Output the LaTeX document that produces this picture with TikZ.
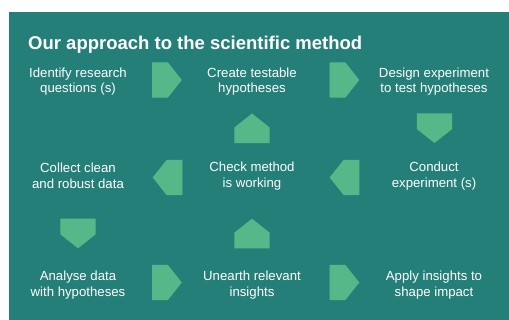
\documentclass[tikz,border=0pt]{standalone}
\usepackage{fontspec}
\setmainfont{Liberation Sans}
\definecolor{panel}{HTML}{237F78}
\definecolor{leaf}{HTML}{56B889}
\begin{document}
\begin{tikzpicture}[x=1pt,y=-1pt,
  steptext/.style={text=white, align=center, inner sep=0pt,
    font=\fontsize{13.2}{15.6}\selectfont},
  title/.style={text=white, inner sep=0pt, anchor=base west,
    font=\fontsize{18.5}{22}\selectfont\bfseries},
  chevron/.pic={\fill[leaf] (-14.8,-17.7) -- (0.8,-17.7) -- (14.8,0)
    -- (0.8,17.7) -- (-14.8,17.7) -- cycle;}]
\useasboundingbox (0,0) rectangle (509,320);
\fill[white] (0,0) rectangle (509,320);
\fill[panel] (9,12) rectangle (509,320);

\node[title] (title) at (28,49.3) {Our approach to the scientific method};

% first row
\node[steptext] (q1) at (78,81.5) {Identify research\\questions (s)};
\node[steptext] (h1) at (252,81.5) {Create testable\\hypotheses};
\node[steptext] (d1) at (434,81.5) {Design experiment\\to test hypotheses};
% second row
\node[steptext] (c1) at (78,176) {Collect clean\\and robust data};
\node[steptext] (m1) at (252,176) {Check method\\is working};
\node[steptext] (e1) at (434,176) {Conduct\\experiment (s)};
% third row
\node[steptext] (a1) at (78,285) {Analyse data\\with hypotheses};
\node[steptext] (u1) at (252,285) {Unearth relevant\\insights};
\node[steptext] (s1) at (434,285) {Apply insights to\\shape impact};

% flow markers
\pic at (167,80) {chevron};
\pic at (344.5,80) {chevron};
\pic[rotate=-90] at (434.5,128.2) {chevron};
\pic[rotate=180] at (344.5,177.5) {chevron};
\pic[rotate=90] at (252,128.3) {chevron};
\pic[rotate=180] at (167.5,177.5) {chevron};
\pic[rotate=-90] at (78,233.5) {chevron};
\pic at (167,282.5) {chevron};
\pic[rotate=90] at (252,233.5) {chevron};
\pic at (344.5,282.5) {chevron};
\end{tikzpicture}
\end{document}
